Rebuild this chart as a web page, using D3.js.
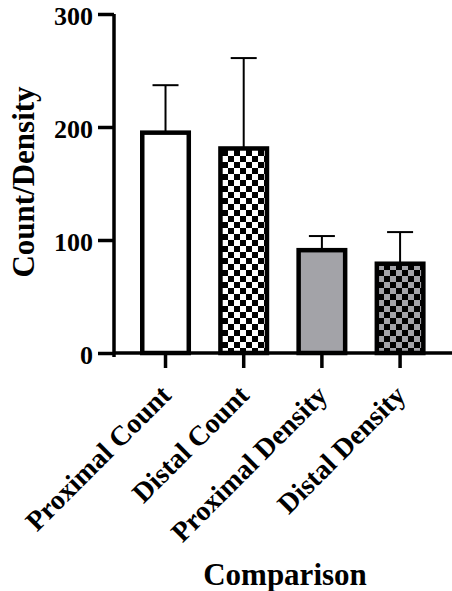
<!DOCTYPE html>
<html>
<head>
<meta charset="utf-8">
<script src="https://cdn.jsdelivr.net/npm/d3@7"></script>
<style>
  html, body { margin: 0; padding: 0; background: #fff; }
  svg text { font-family: "Liberation Serif", "Times New Roman", serif; font-weight: bold; fill: #000; }
</style>
</head>
<body>
<div id="chart"></div>
<script>
// data
var categories = ["Proximal Count", "Distal Count", "Proximal Density", "Distal Density"];
var means      = [195, 181, 91, 79];
var errUpper   = [237, 261, 103.5, 107];
var fills      = ["white", "url(#checkBW)", "#a3a3a8", "url(#checkGray)"];
var yTicks     = [0, 100, 200, 300];

var width = 452, height = 591;

var svg = d3.select("#chart").append("svg")
    .attr("width", width)
    .attr("height", height);

// checker patterns
var defs = svg.append("defs");
function checker(id, bg) {
  var p = defs.append("pattern")
    .attr("id", id)
    .attr("patternUnits", "userSpaceOnUse")
    .attr("width", 12).attr("height", 12);
  p.append("rect").attr("width", 12).attr("height", 12).attr("fill", bg);
  p.append("rect").attr("width", 6).attr("height", 6).attr("fill", "#000");
  p.append("rect").attr("x", 6).attr("y", 6).attr("width", 6).attr("height", 6).attr("fill", "#000");
}
checker("checkBW", "#fff");
checker("checkGray", "#a3a3a8");

var xScale = d3.scaleBand()
    .domain(categories)
    .range([118.8, 446.8])
    .paddingInner(0.405)
    .paddingOuter(0.3);

var yScale = d3.scaleLinear()
    .domain([0, 300])
    .range([353, 14]);

var axisX0 = 114;

// error bars (drawn first, bars sit on top)
var errG = svg.append("g");
categories.forEach(function (c, i) {
  var cx = xScale(c) + xScale.bandwidth() / 2;
  errG.append("line")
    .attr("x1", cx).attr("x2", cx)
    .attr("y1", yScale(means[i])).attr("y2", yScale(errUpper[i]))
    .attr("stroke", "#000").attr("stroke-width", 2);
  errG.append("line")
    .attr("x1", cx - 13).attr("x2", cx + 13)
    .attr("y1", yScale(errUpper[i])).attr("y2", yScale(errUpper[i]))
    .attr("stroke", "#000").attr("stroke-width", 2);
});

// bars
svg.append("g").selectAll("rect")
  .data(categories)
  .enter().append("rect")
    .attr("x", function (d) { return xScale(d); })
    .attr("y", function (d, i) { return yScale(means[i]); })
    .attr("width", xScale.bandwidth())
    .attr("height", function (d, i) { return yScale(0) - yScale(means[i]); })
    .attr("fill", function (d, i) { return fills[i]; })
    .attr("stroke", "#000")
    .attr("stroke-width", 4.5);

// y axis
var yAxisEl = svg.append("g")
    .attr("transform", "translate(" + axisX0 + ",0)")
    .call(d3.axisLeft(yScale).tickValues(yTicks).tickSize(16).tickPadding(5).tickSizeOuter(0));
yAxisEl.select(".domain").attr("stroke", "#000").attr("stroke-width", 3.5)
    .attr("d", "M0," + yScale(300) + "V" + (yScale(0) + 4));
yAxisEl.selectAll(".tick line").attr("stroke", "#000").attr("stroke-width", 3.5);
yAxisEl.selectAll(".tick text")
    .style("font-size", "26px")
    .attr("dy", "0.42em");

// x axis
var xAxisEl = svg.append("g")
    .attr("transform", "translate(0," + yScale(0) + ")")
    .call(d3.axisBottom(xScale).tickSize(15).tickSizeOuter(0));
xAxisEl.select(".domain").attr("stroke", "#000").attr("stroke-width", 3.5)
    .attr("d", "M" + axisX0 + ",0H452");
xAxisEl.selectAll(".tick line").attr("stroke", "#000").attr("stroke-width", 3.5);
xAxisEl.selectAll(".tick text")
    .style("font-size", "28px")
    .attr("text-anchor", "end")
    .attr("dy", null)
    .attr("y", null)
    .attr("transform", "translate(7,44) rotate(-45)");

// axis titles
svg.append("text")
    .attr("transform", "translate(34,182) rotate(-90)")
    .attr("text-anchor", "middle")
    .style("font-size", "31px")
    .text("Count/Density");

svg.append("text")
    .attr("x", 285)
    .attr("y", 585)
    .attr("text-anchor", "middle")
    .style("font-size", "31px")
    .text("Comparison");
</script>
</body>
</html>
